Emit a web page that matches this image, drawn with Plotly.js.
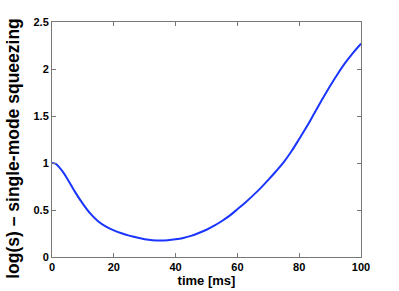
<!DOCTYPE html>
<html>
<head>
<meta charset="utf-8">
<script src="https://cdn.plot.ly/plotly-3.0.1.min.js"></script>
<style>html,body{margin:0;padding:0;background:#fff}#chart{width:399px;height:291px}</style>
</head>
<body>
<div id="chart"></div>
<script>
var timeMs = [0, 1.25, 2.5, 3.75, 5, 7.5, 10, 12.5, 15, 17.5, 20, 22.5, 25, 27.5, 30, 32.5, 35, 37.5, 40, 42.5, 45, 47.5, 50, 52.5, 55, 57.5, 60, 62.5, 65, 67.5, 70, 72.5, 75, 77.5, 80, 82.5, 85, 87.5, 90, 92.5, 95, 97.5, 100];
var squeezing = [1.00, 0.99, 0.948, 0.895, 0.83, 0.69, 0.565, 0.458, 0.378, 0.322, 0.283, 0.252, 0.227, 0.207, 0.19, 0.179, 0.175, 0.178, 0.188, 0.203, 0.225, 0.255, 0.29, 0.333, 0.383, 0.44, 0.508, 0.578, 0.653, 0.733, 0.82, 0.912, 1.01, 1.125, 1.255, 1.39, 1.535, 1.68, 1.82, 1.95, 2.07, 2.175, 2.27];
var xTicks = [0, 20, 40, 60, 80, 100];
var yTicks = [0, 0.5, 1, 1.5, 2, 2.5];
var yTickText = ['0', '0.5', '1', '1.5', '2', '2.5'];
var xTitle = 'time [ms]';
var yTitle = 'log(s) – single-mode squeezing';

var tickFont = {family: '"Liberation Sans", Arial, sans-serif', size: 11, color: '#000', weight: 700};
var data = [{
  x: timeMs, y: squeezing, type: 'scatter', mode: 'lines',
  line: {color: '#1a35ff', width: 2, shape: 'spline', smoothing: 1},
  hoverinfo: 'skip'
}];
var layout = {
  width: 399, height: 291,
  margin: {l: 52, r: 37.5, t: 22, b: 34, pad: 0},
  paper_bgcolor: '#fff', plot_bgcolor: '#fff',
  showlegend: false,
  xaxis: {
    range: [0, 100], tickvals: xTicks, ticks: 'inside', ticklen: 4, tickcolor: '#777',
    showline: true, linecolor: '#777', linewidth: 1, mirror: 'ticks',
    showgrid: false, zeroline: false, tickfont: tickFont,
    title: {text: xTitle, font: {family: '"Liberation Sans", Arial, sans-serif', size: 13, color: '#000', weight: 700}, standoff: 3}
  },
  yaxis: {
    range: [0, 2.5], tickvals: yTicks, ticktext: yTickText, ticks: 'inside', ticklen: 4, tickcolor: '#777',
    showline: true, linecolor: '#777', linewidth: 1, mirror: 'ticks',
    showgrid: false, zeroline: false, tickfont: tickFont
  },
  annotations: [{
    text: yTitle, textangle: -90, showarrow: false,
    xref: 'paper', yref: 'paper', x: -0.125, y: 0.462, xanchor: 'center', yanchor: 'middle',
    font: {family: '"Liberation Sans", Arial, sans-serif', size: 17.5, color: '#000', weight: 700}
  }]
};
Plotly.newPlot('chart', data, layout, {staticPlot: true, displayModeBar: false});
</script>
</body>
</html>
